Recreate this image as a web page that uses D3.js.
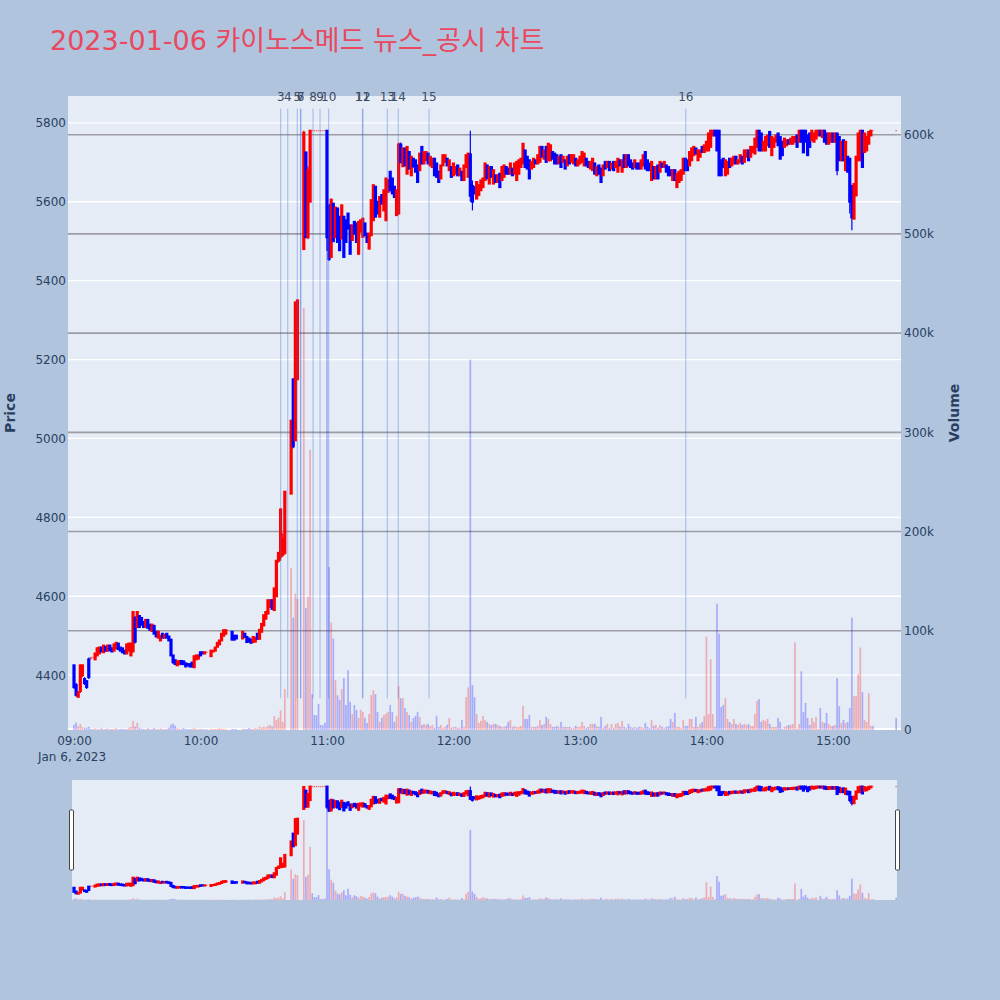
<!DOCTYPE html>
<html>
<head>
<meta charset="utf-8">
<script src="https://cdn.jsdelivr.net/npm/d3@7"></script>
<style>
  body { margin: 0; background: #b0c4de; }
  text { font-family: "DejaVu Sans", "Noto Sans CJK KR", sans-serif; }
</style>
</head>
<body>
<div id="chart"></div>
<script>
//////// Data: one slot per minute from 09:00, null = no trade ////////
const chartTitle = "2023-01-06 카이노스메드 뉴스_공시 차트";
const sessionStart = "2023-01-06 09:00:00";

const opens = [
  4425,4375,4345,4360,4400,4390,4385,4440,4445,4445,
  4440,4450,4455,4470,4458,4472,4462,4475,4468,4462,
  4468,4480,4470,4468,4462,4455,4462,4450,4460,4545,
  4522,4550,4545,4535,4522,4540,4528,4512,4525,4510,
  4495,4488,4505,4495,4505,4498,4490,4450,4438,4425,
  4428,4436,4435,4430,4428,4428,4432,4420,4440,4442,
  4458,4458,4455,4458,null,4448,4460,4462,4472,4478,
  4488,4500,4505,null,null,4510,4500,4500,null,null,
  4493,4505,4497,4493,4490,4484,4485,4505,4492,4510,
  4526,4543,4556,4573,4590,4565,4600,4690,4700,4705,
  4710,null,null,4860,5150,4995,5150,null,null,5480,
  5725,5510,5600,5780,5780,5780,5780,5780,5780,5780,
  5780,5590,5460,5595,5510,5583,5562,5507,5562,5553,
  5570,5540,5503,5549,5545,5468,5524,5511,5545,5519,
  5481,5515,5553,5638,5600,5562,5617,5578,5553,5625,
  5676,5659,5638,5566,5570,5745,5690,5735,5671,5726,
  5667,5709,5705,5692,5680,5739,5697,5705,5722,5692,
  5688,5709,5697,5676,5659,5692,5701,5709,5680,5688,
  5667,5671,5692,5667,5676,5655,5688,5663,5720,5640,
  5637,5608,5617,5629,5637,5655,5692,5646,5688,5646,
  5667,5650,5671,5655,5663,5688,5684,5671,5684,5671,
  5655,5671,5688,5697,5730,5714,5705,5684,5688,5705,
  5697,5701,5739,5709,5739,5705,5705,5726,5722,5718,
  5697,5718,5701,5705,5692,5718,5701,5697,5709,5692,
  5697,5701,5692,5709,5701,5684,5680,5697,5667,5692,
  5684,5667,5701,5688,5701,5684,5701,5688,5676,5705,
  5676,5718,5688,5718,5705,5697,5688,5697,5697,5684,
  5692,5726,5705,5697,5655,5688,5659,5692,5676,5697,
  5688,5692,5688,5680,5655,5680,5637,5650,5655,5671,
  5709,5705,5692,5705,5718,5735,5705,5714,5739,5726,
  5730,5730,5739,5768,5780,5780,5780,5705,5709,5667,
  5671,5709,5692,5697,5714,5697,5701,5714,5701,5714,
  5730,5714,5726,5722,5739,5780,5773,5730,5730,5743,
  5777,5718,5739,5752,5773,5764,5752,5739,5743,5756,
  5747,5747,5752,5768,5752,5780,5780,5780,5768,5773,
  5756,5752,5760,5768,5780,5764,5780,5773,5747,5752,
  5773,5752,5773,5764,5705,5756,5680,5714,5709,5640,
  5557,5616,5705,5705,5780,5726,5730,5747,5768,5780,
  null,null,null,null,null,null,null,null,null,null,
  5780
];

const highs = [
  4425,4380,4360,4425,4425,4395,4385,4445,4445,4445,
  4455,4470,4470,4470,4475,4472,4475,4475,4468,4478,
  4482,4480,4470,4468,4462,4478,4480,4480,4562,4550,
  4560,4550,4545,4535,4540,4540,4528,4528,4525,4510,
  4510,4500,4505,4502,4505,4498,4490,4450,4438,4435,
  4436,4436,4435,4430,4428,4428,4432,4448,4450,4452,
  4458,4458,4458,4458,null,4462,4462,4470,4482,4488,
  4505,4514,4514,null,null,4510,4500,4500,null,null,
  4510,4505,4497,4493,4490,4497,4495,4505,4515,4530,
  4552,4560,4590,4590,4590,4620,4690,4710,4823,4760,
  4865,null,null,5045,5150,5345,5350,null,null,5780,
  5725,5690,5780,5780,5780,5780,5780,5780,5780,5780,
  5780,5595,5608,5595,5587,5583,5562,5591,5562,5553,
  5570,5540,5540,5549,5545,5549,5553,5557,5545,5519,
  5519,5604,5642,5638,5600,5612,5617,5629,5659,5655,
  5676,5659,5638,5629,5750,5750,5735,5735,5739,5726,
  5714,5709,5705,5692,5722,5739,5726,5726,5722,5714,
  5709,5709,5697,5676,5692,5718,5718,5709,5705,5688,
  5697,5688,5692,5684,5676,5692,5718,5722,5780,5654,
  5637,5650,5642,5654,5659,5697,5692,5688,5688,5680,
  5667,5667,5671,5688,5692,5688,5684,5697,5684,5697,
  5701,5705,5709,5747,5730,5714,5705,5701,5709,5705,
  5718,5739,5739,5730,5739,5747,5743,5726,5722,5718,
  5714,5718,5714,5705,5714,5718,5718,5718,5709,5705,
  5714,5726,5722,5709,5701,5701,5709,5697,5688,5692,
  5684,5692,5701,5701,5701,5697,5701,5701,5709,5705,
  5705,5718,5718,5718,5705,5697,5705,5697,5697,5705,
  5718,5726,5705,5697,5701,5688,5688,5692,5701,5697,
  5701,5692,5688,5680,5680,5680,5671,5676,5680,5709,
  5709,5705,5726,5735,5739,5735,5730,5730,5739,5743,
  5752,5773,5780,5780,5780,5780,5780,5705,5709,5705,
  5701,5709,5709,5714,5714,5705,5718,5714,5730,5730,
  5730,5739,5739,5760,5780,5780,5773,5752,5764,5768,
  5777,5764,5760,5768,5773,5764,5752,5760,5756,5756,
  5760,5764,5764,5768,5780,5780,5780,5780,5768,5773,
  5780,5773,5780,5780,5780,5780,5780,5773,5773,5773,
  5773,5773,5773,5764,5752,5756,5752,5714,5709,5640,
  5645,5714,5773,5780,5780,5773,5764,5777,5780,5780,
  null,null,null,null,null,null,null,null,null,null,
  5780
];

const lows = [
  4365,4345,4345,4355,4395,4375,4365,4390,4440,4445,
  4440,4450,4455,4460,4458,4460,4462,4463,4460,4462,
  4468,4466,4462,4458,4455,4455,4462,4450,4460,4480,
  4522,4522,4528,4522,4522,4520,4515,4512,4505,4498,
  4495,4488,4495,4495,4495,4488,4450,4428,4428,4425,
  4428,4428,4428,4422,4425,4422,4420,4420,4440,4442,
  4450,4455,4455,4458,null,4446,4460,4462,4472,4478,
  4488,4500,4505,null,null,4490,4490,4493,null,null,
  4493,4497,4484,4485,4482,4484,4485,4492,4492,4510,
  4526,4543,4556,4573,4568,4565,4600,4685,4690,4700,
  4705,null,null,4860,4975,4995,5150,null,null,5480,
  5510,5505,5600,5780,5780,5780,5780,5780,5780,5780,
  5475,5450,5460,5498,5510,5498,5477,5507,5460,5498,
  5532,5468,5503,5519,5498,5468,5524,5511,5515,5498,
  5481,5515,5553,5562,5570,5562,5595,5578,5553,5625,
  5629,5621,5612,5566,5570,5700,5690,5692,5671,5684,
  5667,5689,5676,5650,5680,5697,5697,5705,5697,5692,
  5688,5667,5663,5650,5659,5692,5701,5692,5680,5663,
  5667,5671,5667,5667,5655,5655,5688,5663,5600,5578,
  5621,5608,5617,5629,5637,5655,5659,5646,5663,5646,
  5650,5650,5637,5655,5663,5671,5671,5671,5667,5671,
  5655,5671,5688,5697,5688,5684,5659,5684,5688,5697,
  5697,5701,5714,5709,5701,5705,5705,5709,5697,5697,
  5697,5688,5701,5684,5692,5697,5701,5697,5692,5692,
  5697,5701,5692,5692,5688,5684,5680,5671,5667,5671,
  5650,5667,5684,5688,5680,5684,5680,5688,5676,5692,
  5676,5688,5688,5692,5688,5684,5688,5684,5684,5684,
  5692,5684,5680,5680,5655,5659,5659,5659,5676,5688,
  5688,5676,5667,5667,5655,5655,5637,5650,5655,5671,
  5680,5680,5692,5705,5718,5722,5705,5714,5726,5726,
  5730,5730,5739,5768,5768,5730,5667,5667,5688,5667,
  5671,5688,5692,5697,5697,5697,5701,5697,5701,5714,
  5705,5714,5726,5722,5739,5730,5730,5730,5730,5743,
  5739,5718,5739,5752,5743,5709,5718,5739,5743,5747,
  5747,5747,5752,5739,5752,5752,5725,5752,5718,5739,
  5756,5752,5760,5768,5768,5764,5752,5747,5747,5752,
  5752,5752,5667,5705,5705,5705,5680,5676,5570,5528,
  5557,5616,5705,5705,5688,5726,5730,5747,5768,5780,
  null,null,null,null,null,null,null,null,null,null,
  5780
];

const closes = [
  4370,4350,4355,4425,4425,4380,4370,4395,4445,4445,
  4455,4468,4470,4460,4475,4462,4475,4463,4460,4478,
  4482,4466,4462,4458,4455,4478,4480,4480,4560,4485,
  4560,4522,4528,4522,4540,4520,4515,4528,4505,4498,
  4510,4500,4495,4502,4495,4488,4450,4433,4428,4435,
  4436,4428,4428,4422,4425,4422,4422,4448,4450,4450,
  4450,4455,4458,4458,null,4462,4462,4470,4482,4488,
  4505,4514,4514,null,null,4490,4490,4493,null,null,
  4510,4497,4484,4485,4482,4497,4495,4492,4515,4530,
  4552,4560,4590,4590,4568,4620,4690,4710,4820,4745,
  4865,null,null,5045,4980,5345,5350,null,null,5775,
  5510,5680,5780,5780,5780,5780,5780,5780,5780,5780,
  5510,5455,5605,5500,5585,5498,5477,5591,5460,5498,
  5532,5468,5540,5519,5498,5549,5553,5557,5515,5498,
  5519,5604,5642,5562,5570,5612,5595,5629,5659,5655,
  5629,5621,5612,5629,5745,5700,5735,5692,5739,5684,
  5714,5689,5676,5650,5722,5697,5726,5726,5697,5714,
  5709,5667,5663,5650,5692,5718,5718,5692,5705,5663,
  5697,5688,5667,5684,5655,5692,5718,5722,5615,5600,
  5621,5650,5642,5654,5659,5697,5659,5688,5663,5680,
  5650,5667,5637,5688,5692,5671,5671,5697,5667,5697,
  5701,5705,5709,5747,5688,5684,5659,5701,5709,5697,
  5718,5739,5714,5730,5701,5747,5743,5709,5697,5697,
  5714,5688,5714,5684,5714,5697,5718,5718,5692,5705,
  5714,5726,5722,5692,5688,5701,5709,5671,5688,5671,
  5650,5692,5684,5701,5680,5697,5680,5701,5709,5692,
  5705,5688,5718,5692,5688,5684,5705,5684,5684,5705,
  5718,5684,5680,5680,5701,5659,5688,5659,5701,5688,
  5701,5676,5667,5667,5680,5655,5671,5676,5680,5709,
  5680,5680,5726,5735,5739,5722,5730,5730,5726,5743,
  5752,5773,5780,5780,5768,5730,5667,5667,5688,5705,
  5701,5688,5709,5714,5697,5705,5718,5697,5730,5730,
  5705,5739,5739,5760,5780,5730,5730,5752,5764,5768,
  5739,5764,5760,5768,5743,5709,5718,5760,5756,5747,
  5760,5764,5764,5739,5780,5752,5725,5752,5718,5739,
  5780,5773,5780,5780,5768,5780,5752,5747,5773,5773,
  5752,5773,5680,5705,5752,5705,5752,5676,5600,5560,
  5645,5714,5773,5780,5688,5773,5764,5777,5780,5780,
  null,null,null,null,null,null,null,null,null,null,
  5780
];

const volumes = [
  5200,7400,3800,6100,2900,2100,2300,3200,1200,900,
  1800,1300,1100,2200,1000,1200,1900,800,1000,1200,
  2100,900,1100,1300,1000,1200,2400,3100,9200,3400,
  7300,2300,1400,1100,1200,1900,1000,1300,2000,1100,
  1200,2200,1000,900,1200,2300,5400,6300,4300,2100,
  1300,1200,2000,1100,900,1000,1200,2300,1300,1000,
  1100,900,1000,800,null,1300,900,1100,1200,2000,
  1400,1300,1100,null,null,1200,900,1000,null,null,
  1300,1100,1000,2100,1200,1100,2000,1300,3200,2400,
  3100,2600,4200,5300,3400,14200,10100,12300,19800,8200,
  41300,null,null,163000,113200,137400,132100,null,null,425300,
  123100,134200,282400,36100,15200,14800,26300,5100,4800,7200,
  524800,164100,108300,92100,50200,35100,30400,41200,52300,25100,
  60200,28300,16100,25200,20300,12100,20400,18200,12300,7100,
  16200,35300,40100,36200,18100,8200,12300,15100,16400,18200,
  25300,18100,8200,14300,44200,32100,32300,22100,18200,15100,
  8300,12100,14200,18300,13100,5200,6100,5300,6200,4100,
  5200,2100,14300,3100,5200,2200,3100,5300,12100,2200,
  3100,3200,2100,2300,10100,3200,33200,43100,373400,45200,
  33100,16200,7100,9200,14100,10200,8100,6200,5100,6300,
  6100,5200,4100,3100,3200,4100,8200,10100,3100,4200,
  3100,3200,4100,24300,11200,11100,15200,3100,3200,3100,
  4200,10100,5100,6200,13200,11100,6100,3200,3100,4200,
  3100,8200,3100,3200,3100,3200,2100,2200,4100,3100,
  3200,8100,4200,2100,3100,6200,6100,6200,4100,3200,
  13100,2200,4100,6200,2100,6100,2200,6300,7100,3200,
  9100,3200,2100,6200,3100,2200,3100,2100,3200,3100,
  2200,7100,3200,2100,10200,4100,5200,2100,5100,3200,
  2100,3200,4100,11200,8100,17200,3100,3200,2100,10200,
  4100,4200,11100,11200,3100,13200,3100,6200,8100,14200,
  94100,16200,71300,16100,3200,127300,97200,23100,25200,32100,
  11200,8100,6200,11100,6200,5100,7200,5100,6200,5200,
  6100,4200,4100,16200,29300,31200,8100,10200,9100,11200,
  6100,3200,3100,3200,12100,8200,1200,3100,4200,5100,
  5200,6100,88200,1300,6200,59100,18200,27300,12100,5200,
  12200,8100,13200,1200,22100,8200,7100,17200,6100,4200,
  4100,5200,52300,24100,7200,10100,7200,8100,22200,113300,
  34200,34100,56200,83100,38200,10100,8200,37100,4100,4200,
  null,null,null,null,null,null,null,null,null,null,
  12200
];

// news / disclosure markers
const newsTimes = ["10:38:03","10:41:24","10:45:54","10:47:30","10:47:36","10:53:24","10:56:42",
                   "11:00:48","11:16:48","11:17:06","11:28:36","11:33:48","11:48:24","13:50:12"];
const newsLabels = ["3","4","5","6","7","8","9","10","11","12","13","14","15","16"];

//////// Layout ////////
const width = 1000, height = 1000;
const plot = {left: 68, right: 901, top: 96, bottom: 730};
const slider = {left: 72, right: 897, top: 780, bottom: 900};
const upColor = "#ff0000", downColor = "#0000ff";
const textColor = "#2a3f5f";

const parseTime = d3.timeParse("%Y-%m-%d %H:%M:%S");
const t0 = parseTime(sessionStart);
const minuteMs = 60000;

// build candle records
const candles = [];
opens.forEach((o, i) => {
    if (o == null) return;
    candles.push({t: new Date(t0.getTime() + i * minuteMs), o: o, h: highs[i], l: lows[i], c: closes[i], v: volumes[i]});
});

// direction like plotly: equal open/close follows the previous close
let lastUp = true, prevClose = null;
candles.forEach(d => {
    if (d.c > d.o) d.up = true;
    else if (d.c < d.o) d.up = false;
    else if (prevClose != null && d.c !== prevClose) d.up = d.c > prevClose;
    else d.up = lastUp;
    lastUp = d.up;
    prevClose = d.c;
});

//////// Scales ////////
const x = d3.scaleTime()
    .domain([new Date(t0.getTime() - 2.85 * minuteMs), new Date(t0.getTime() + 392.3 * minuteMs)])
    .range([plot.left, plot.right]);

const yPrice = d3.scaleLinear().domain([4261, 5868]).range([plot.bottom, plot.top]);
const yVol = d3.scaleLinear().domain([0, 639000]).range([plot.bottom, plot.top]);

const yPriceS = d3.scaleLinear().domain(yPrice.domain()).range([slider.bottom, slider.top]);
const yVolS = d3.scaleLinear().domain(yVol.domain()).range([slider.bottom, slider.top]);

//////// SVG ////////
const svg = d3.select("#chart").append("svg")
    .attr("width", width)
    .attr("height", height);

svg.append("rect").attr("width", width).attr("height", height).attr("fill", "#b0c4de");

const defs = svg.append("defs");
defs.append("clipPath").attr("id", "clip-main").append("rect")
    .attr("x", plot.left).attr("y", plot.top)
    .attr("width", plot.right - plot.left).attr("height", plot.bottom - plot.top);
defs.append("clipPath").attr("id", "clip-slider").append("rect")
    .attr("x", slider.left).attr("y", slider.top)
    .attr("width", slider.right - slider.left).attr("height", slider.bottom - slider.top);

// title
svg.append("text")
    .attr("x", 50).attr("y", 50)
    .attr("font-size", 27)
    .attr("fill", "#e9485e")
    .text(chartTitle);

// plot background
svg.append("rect")
    .attr("x", plot.left).attr("y", plot.top)
    .attr("width", plot.right - plot.left).attr("height", plot.bottom - plot.top)
    .attr("fill", "#e5ecf6");

// price grid (white)
const priceTicks = yPrice.ticks(8);
svg.append("g").selectAll("line").data(priceTicks).join("line")
    .attr("x1", plot.left).attr("x2", plot.right)
    .attr("y1", d => yPrice(d)).attr("y2", d => yPrice(d))
    .attr("stroke", "#ffffff").attr("stroke-width", 1.3);

// volume grid (grey)
const volTicks = yVol.ticks(6);
svg.append("g").selectAll("line").data(volTicks.filter(d => d > 0)).join("line")
    .attr("x1", plot.left).attr("x2", plot.right)
    .attr("y1", d => yVol(d)).attr("y2", d => yVol(d))
    .attr("stroke", "#9c9ca2").attr("stroke-width", 1.6);

// volume zero line
svg.append("line")
    .attr("x1", plot.left).attr("x2", plot.right)
    .attr("y1", yVol(0) - 1).attr("y2", yVol(0) - 1)
    .attr("stroke", "#ffffff").attr("stroke-width", 2);

//////// Traces ////////
function drawTraces(g, yP, yV) {
    const half = 1.6;
    const flat = d => d.o === d.c;
    g.append("g").selectAll("line").data(candles).join("line")
        .attr("x1", d => x(d.t)).attr("x2", d => x(d.t))
        .attr("y1", d => yP(d.h)).attr("y2", d => yP(d.l))
        .attr("stroke", d => d.up ? upColor : downColor)
        .attr("stroke-width", 1.2);

    g.append("g").selectAll("rect").data(candles).join("rect")
        .attr("x", d => x(d.t) - (flat(d) ? 0.7 : half))
        .attr("width", d => flat(d) ? 1.4 : half * 2)
        .attr("y", d => flat(d) ? yP(d.c) - 0.6 : yP(Math.max(d.o, d.c)) - 1)
        .attr("height", d => flat(d) ? 1.2 : Math.abs(yP(d.o) - yP(d.c)) + 2)
        .attr("fill", d => d.up ? upColor : downColor)
        .attr("opacity", d => flat(d) ? 0.6 : 1);

    g.append("g").selectAll("rect").data(candles.filter(d => d.v != null)).join("rect")
        .attr("x", d => x(d.t) - 0.85)
        .attr("width", 1.7)
        .attr("y", d => yV(d.v))
        .attr("height", d => yV(0) - yV(d.v))
        .attr("fill", d => d.c > d.o ? "rgba(255,0,0,0.27)" : "rgba(0,0,255,0.27)");
}

const mainG = svg.append("g").attr("clip-path", "url(#clip-main)");
drawTraces(mainG, yPrice, yVol);

// news lines
const newsData = newsTimes.map((t, i) => ({t: parseTime("2023-01-06 " + t), label: newsLabels[i]}));
const lineTop = plot.bottom - 0.98 * (plot.bottom - plot.top);
const lineBottom = plot.bottom - 0.05 * (plot.bottom - plot.top);
mainG.append("g").selectAll("line").data(newsData).join("line")
    .attr("x1", d => x(d.t)).attr("x2", d => x(d.t))
    .attr("y1", lineTop).attr("y2", lineBottom)
    .attr("stroke", "rgba(65,105,225,0.42)")
    .attr("stroke-width", 1);

svg.append("g").selectAll("text").data(newsData).join("text")
    .attr("x", d => x(d.t))
    .attr("y", plot.top + 1)
    .attr("text-anchor", "middle")
    .attr("dominant-baseline", "central")
    .attr("font-size", 12)
    .attr("fill", "#3d4b63")
    .text(d => d.label);

//////// Axes ////////
const xAxis = svg.append("g")
    .attr("transform", `translate(0,${plot.bottom})`)
    .call(d3.axisBottom(x).ticks(d3.timeHour.every(1)).tickFormat(d3.timeFormat("%H:%M")).tickSize(0).tickPadding(6));
xAxis.select(".domain").remove();
xAxis.selectAll("text").attr("font-size", 12).attr("fill", textColor).attr("font-family", null);

svg.append("text")
    .attr("x", x(t0) - 2).attr("y", 761)
    .attr("text-anchor", "middle")
    .attr("font-size", 12).attr("fill", textColor)
    .text(d3.timeFormat("%b %-d, %Y")(t0));

const yAxisL = svg.append("g")
    .attr("transform", `translate(${plot.left},0)`)
    .call(d3.axisLeft(yPrice).ticks(8).tickFormat(d3.format("d")).tickSize(0).tickPadding(2));
yAxisL.select(".domain").remove();
yAxisL.selectAll("text").attr("font-size", 12).attr("fill", textColor).attr("font-family", null);

const yAxisR = svg.append("g")
    .attr("transform", `translate(${plot.right},0)`)
    .call(d3.axisRight(yVol).ticks(6).tickFormat(d3.format("~s")).tickSize(0).tickPadding(3));
yAxisR.select(".domain").remove();
yAxisR.selectAll("text").attr("font-size", 12).attr("fill", textColor).attr("font-family", null);

svg.append("text")
    .attr("transform", `translate(10,${(plot.top + plot.bottom) / 2}) rotate(-90)`)
    .attr("text-anchor", "middle").attr("dominant-baseline", "central")
    .attr("font-size", 14).attr("font-weight", "bold").attr("fill", textColor)
    .text("Price");

svg.append("text")
    .attr("transform", `translate(954,${(plot.top + plot.bottom) / 2}) rotate(-90)`)
    .attr("text-anchor", "middle").attr("dominant-baseline", "central")
    .attr("font-size", 14).attr("font-weight", "bold").attr("fill", textColor)
    .text("Volume");

//////// Range slider ////////
svg.append("rect")
    .attr("x", slider.left).attr("y", slider.top)
    .attr("width", slider.right - slider.left).attr("height", slider.bottom - slider.top)
    .attr("fill", "#e5ecf6");

const sliderG = svg.append("g").attr("clip-path", "url(#clip-slider)");
drawTraces(sliderG, yPriceS, yVolS);

[slider.left - 2.5, slider.right - 1.5].forEach(hx => {
    svg.append("rect")
        .attr("x", hx).attr("y", 810)
        .attr("width", 4).attr("height", 60)
        .attr("rx", 1)
        .attr("fill", "#ffffff")
        .attr("stroke", "#444444")
        .attr("stroke-width", 1);
});
</script>
</body>
</html>
